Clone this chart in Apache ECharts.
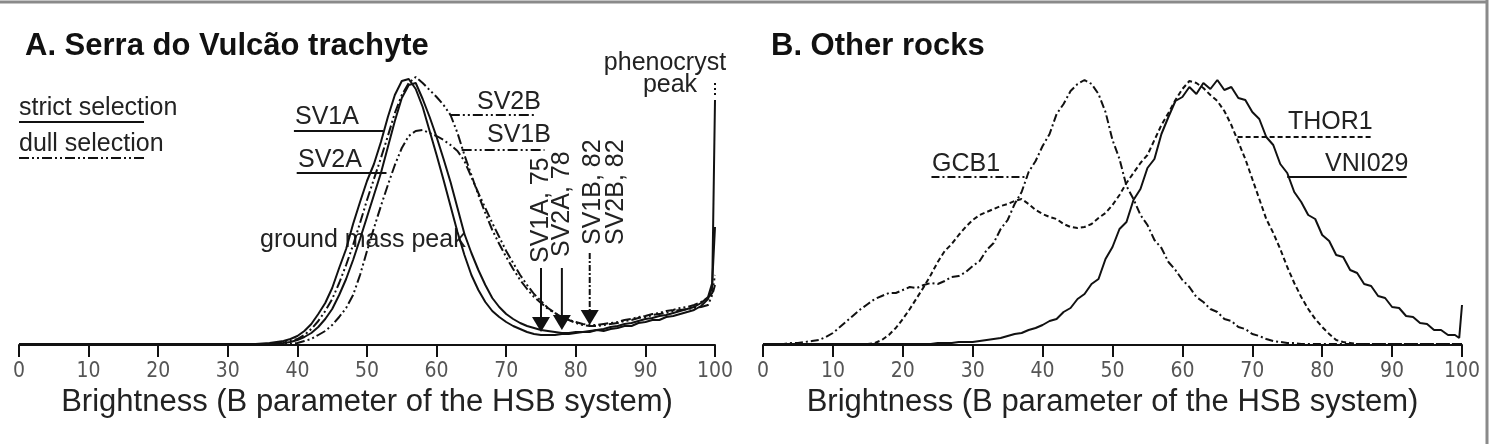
<!DOCTYPE html>
<html>
<head>
<meta charset="utf-8">
<script src="https://cdn.jsdelivr.net/npm/echarts@6/dist/echarts.min.js"></script>
<style>
  html, body { margin: 0; padding: 0; background: #fff; }
  #chart { width: 1491px; height: 444px; }
</style>
</head>
<body>
<div id="chart"></div>
<script>
// brightness histograms, y in arbitrary frequency units
var xsA = [0, 5, 10, 15, 20, 25, 30, 32, 34,
  36, 37, 38, 39, 40, 41, 42, 43, 44, 45, 46, 47, 48, 49, 50, 51, 52, 53, 54, 55,
  56, 57, 58, 59, 60, 61, 62, 63, 64, 65, 66, 67, 68, 69, 70, 71, 72, 73, 74, 75,
  76, 77, 78, 79, 80, 81, 82, 83, 84, 85, 86, 87, 88, 89, 90, 91, 92, 93, 94, 95,
  96, 97, 98, 99, 99.6, 100];

// strict selection (solid)
var sv1a = [1, 1, 1, 1, 1, 1, 1, 1, 1,
  2, 3, 4, 6, 9, 14, 21, 31, 42, 57, 77, 96, 121, 143, 164, 181, 203, 228, 250, 264,
  266, 256, 238, 214, 190, 165, 139, 113, 90, 70, 55, 43, 34, 28, 23, 19, 16, 13, 11, 10,
  10, 10, 11, 11, 12, 13, 13, 15, 14, 16, 17, 19, 19, 22, 23, 25, 25, 28, 29, 31,
  33, 35, 39, 46, 58, 245];
var sv2a = [1, 1, 1, 1, 1, 1, 1, 1, 1,
  1, 1, 2, 3, 5, 8, 12, 18, 26, 36, 50, 66, 85, 106, 128, 150, 172, 198, 224, 247,
  260, 262, 246, 228, 208, 186, 163, 137, 111, 92, 75, 60, 47, 38, 31, 26, 22, 19, 17, 15,
  14, 13, 12, 12, 13, 13, 14, 15, 16, 18, 19, 21, 22, 24, 26, 27, 29, 30, 32, 34,
  36, 38, 42, 48, 62, 118];
// dull selection (dash-dot-dot)
var sv1b = [1, 1, 1, 1, 1, 1, 1, 1, 1,
  1, 1, 1, 1, 2, 4, 6, 10, 14, 20, 28, 37, 50, 70, 94, 117, 139, 160, 180, 197,
  209, 214, 215, 212, 209, 205, 200, 194, 184, 168, 152, 137, 122, 108, 94, 82, 70, 60, 51, 44,
  37, 32, 28, 25, 22, 20, 19, 19, 20, 21, 22, 24, 25, 27, 28, 30, 31, 32, 34, 35,
  36, 37, 38, 40, 50, 60];
var sv2b = [1, 1, 1, 1, 1, 1, 1, 1, 1,
  1, 2, 3, 4, 6, 10, 16, 24, 34, 46, 62, 80, 100, 122, 145, 166, 187, 209, 232, 250,
  262, 268, 262, 255, 248, 240, 230, 212, 190, 170, 150, 132, 115, 101, 88, 76, 65, 56, 48, 42,
  36, 32, 28, 25, 23, 21, 20, 20, 21, 22, 23, 25, 26, 28, 29, 31, 32, 34, 35, 37,
  38, 40, 43, 47, 52, 70];

var xsB = [];
for (var i = 0; i <= 99; i++) xsB.push(i);
xsB.push(99.6, 100);

var gcb1 = [1, 1, 1, 1, 2, 2, 3, 4, 5, 8, 12, 18, 24, 30, 36, 41, 46, 49, 52, 52,
  55, 58, 57, 60, 62, 61, 64, 68, 69, 73, 79, 84, 95, 102, 116, 125, 141, 153, 173, 184,
  199, 211, 231, 241, 254, 261, 265, 261, 251, 233, 205, 186, 159, 146, 130, 120, 105, 97, 83, 75,
  65, 58, 48, 43, 36, 33, 26, 24, 18, 16, 11, 9, 6, 4, 3, 2, 2, 1, 1, 1,
  1, 1, 1, 1, 1, 1, 1, 1, 1, 1, 1, 1, 1, 1, 1, 1, 1, 1, 1, 1, 1, 1];
var thor1 = [1, 1, 1, 1, 1, 1, 1, 1, 1, 1, 1, 1, 1, 1, 1, 1, 2, 5, 10, 17,
  26, 36, 47, 58, 70, 83, 94, 101, 110, 118, 125, 130, 133, 136, 139, 141, 144, 146, 141, 135,
  131, 128, 126, 121, 118, 117, 118, 121, 127, 132, 140, 150, 162, 172, 182, 190, 205, 220, 232, 245,
  256, 264, 262, 257, 250, 244, 234, 220, 203, 186, 166, 146, 126, 112, 96, 78, 62, 48, 36, 26,
  18, 11, 5, 3, 2, 1, 1, 1, 1, 1, 1, 1, 1, 1, 1, 1, 1, 1, 1, 1, 1, 1];
var vni029 = [1, 1, 1, 1, 1, 1, 1, 1, 1, 1, 1, 1, 1, 1, 1, 1, 1, 1, 1, 1,
  1, 1, 1, 1, 1, 2, 2, 2, 3, 3, 3, 4, 5, 6, 7, 9, 11, 12, 15, 17,
  20, 24, 26, 33, 37, 46, 51, 61, 66, 86, 98, 116, 123, 145, 156, 177, 186, 211, 228, 244,
  248, 258, 251, 262, 256, 265, 255, 258, 247, 245, 233, 226, 208, 200, 181, 172, 153, 143, 130, 126,
  110, 104, 90, 88, 75, 72, 61, 59, 49, 47, 38, 37, 29, 28, 22, 21, 15, 15, 10, 10, 7, 40];

var xTicks = [0, 10, 20, 30, 40, 50, 60, 70, 80, 90, 100];
var yMax = 280;

var DASH2DOT = [10, 3, 2, 3, 2, 3];
var DASHDOT = [8, 3, 2, 3];
var DASHED = [5, 3];

function pairs(xs, ys) {
  return xs.map(function (x, k) { return [x, ys[k]]; });
}

function curve(name, xs, ys, idx, dash) {
  return {
    name: name,
    type: 'line',
    xAxisIndex: idx,
    yAxisIndex: idx,
    data: pairs(xs, ys),
    showSymbol: false,
    silent: true,
    lineStyle: { color: '#111', width: 2, type: dash || 'solid' }
  };
}

function xAxisOf(idx) {
  return {
    gridIndex: idx,
    type: 'value',
    min: 0,
    max: 100,
    interval: 10,
    name: 'Brightness (B parameter of the HSB system)',
    nameLocation: 'middle',
    nameGap: 42,
    nameTextStyle: { fontSize: 31, color: '#222', fontFamily: 'Liberation Sans, Arial' },
    axisLine: { lineStyle: { color: '#111', width: 2 } },
    axisTick: { length: 12, lineStyle: { color: '#111', width: 2 } },
    axisLabel: {
      margin: 16, fontSize: 21, color: '#555',
      fontFamily: 'Liberation Sans Narrow, DejaVu Sans Condensed, Liberation Sans',
      formatter: function (v) { return xTicks.indexOf(v) > -1 ? String(v) : ''; }
    },
    splitLine: { show: false }
  };
}

function yAxisOf(idx) {
  return { gridIndex: idx, type: 'value', min: 0, max: yMax, show: false };
}

var chart = echarts.init(document.getElementById('chart'));
var option = {
  animation: false,
  backgroundColor: '#fff',
  title: [
    { text: 'A. Serra do Vulcão trachyte', left: 20, top: 26,
      textStyle: { fontSize: 31, fontWeight: 'bold', color: '#111', fontFamily: 'Liberation Sans, Arial' } },
    { text: 'B. Other rocks', left: 766, top: 26,
      textStyle: { fontSize: 31, fontWeight: 'bold', color: '#111', fontFamily: 'Liberation Sans, Arial' } }
  ],
  grid: [
    { left: 19, width: 696, top: 65, height: 280 },
    { left: 763, width: 699, top: 65, height: 280 }
  ],
  xAxis: [xAxisOf(0), xAxisOf(1)],
  yAxis: [yAxisOf(0), yAxisOf(1)],
  series: [
    curve('SV1A', xsA, sv1a, 0),
    curve('SV2A', xsA, sv2a, 0),
    curve('SV1B', xsA, sv1b, 0, DASH2DOT),
    curve('SV2B', xsA, sv2b, 0, DASH2DOT),
    curve('GCB1', xsB, gcb1, 1, DASHDOT),
    curve('THOR1', xsB, thor1, 1, DASHED),
    curve('VNI029', xsB, vni029, 1)
  ]
};
chart.setOption(option);

// annotations, anchored to data coordinates
var LABEL_FONT = '25px "Liberation Sans", Arial';
function px(g, v, h) { return chart.convertToPixel({ gridIndex: g }, [v, h]); }

function seg(g, v1, h1, v2, h2, dash) {
  var a = px(g, v1, h1), b = px(g, v2, h2);
  return { type: 'line', silent: true,
    shape: { x1: a[0], y1: a[1], x2: b[0], y2: b[1] },
    style: { stroke: '#111', lineWidth: 2, lineDash: dash || null } };
}
function txt(x, y, s, align) {
  return { type: 'text', silent: true, x: x, y: y,
    style: { text: s, font: LABEL_FONT, fill: '#222', align: align || 'left', verticalAlign: 'middle' } };
}
function vtxt(x, y, s) {
  return { type: 'text', silent: true, x: x, y: y, rotation: Math.PI / 2,
    style: { text: s, font: LABEL_FONT, fill: '#222', align: 'left', verticalAlign: 'middle' } };
}
function arrow(g, v, hFrom, hTo, dash) {
  var a = px(g, v, hFrom), b = px(g, v, hTo);
  return [
    { type: 'line', silent: true, shape: { x1: a[0], y1: a[1], x2: b[0], y2: b[1] - 12 },
      style: { stroke: '#111', lineWidth: 2, lineDash: dash || null } },
    { type: 'polygon', silent: true,
      shape: { points: [[b[0] - 9, b[1] - 15], [b[0] + 9, b[1] - 15], [b[0], b[1]]] },
      style: { fill: '#111' } }
  ];
}

var els = [];
// frame
els.push({ type: 'line', silent: true, shape: { x1: 0, y1: 2, x2: 1487, y2: 2 }, style: { stroke: '#8a8a8a', lineWidth: 3 } });
els.push({ type: 'line', silent: true, shape: { x1: 1487, y1: 0, x2: 1487, y2: 444 }, style: { stroke: '#8a8a8a', lineWidth: 3 } });

// legend
els.push(txt(19, 108, 'strict selection'));
els.push({ type: 'line', silent: true, shape: { x1: 19, y1: 122, x2: 144, y2: 122 }, style: { stroke: '#111', lineWidth: 2 } });
els.push(txt(19, 144, 'dull selection'));
els.push({ type: 'line', silent: true, shape: { x1: 19, y1: 158, x2: 145, y2: 158 }, style: { stroke: '#111', lineWidth: 2, lineDash: DASH2DOT } });

// panel A labels
els.push(txt(295, 117, 'SV1A'));
els.push(seg(0, 39.5, 214, 52.3, 214));
els.push(txt(298, 160, 'SV2A'));
els.push(seg(0, 39.9, 172, 52.8, 172));
els.push(txt(477, 102, 'SV2B'));
els.push(seg(0, 61.9, 230, 74.1, 230, DASH2DOT));
els.push(txt(487, 135, 'SV1B'));
els.push(seg(0, 63.6, 195, 75.5, 195, DASH2DOT));
els.push(txt(260, 240, 'ground mass peak'));
els.push(txt(665, 63, 'phenocryst', 'center'));
els.push(txt(670, 85, 'peak', 'center'));
els.push(seg(0, 100, 262, 100, 247, [2, 3]));

els.push(vtxt(px(0, 75, 0)[0], 263, 'SV1A, 75'));
els.push(vtxt(px(0, 78, 0)[0], 257, 'SV2A, 78'));
els.push(vtxt(px(0, 82, 0)[0] + 3, 245, 'SV1B, 82'));
els.push(vtxt(px(0, 82, 0)[0] + 26, 245, 'SV2B, 82'));
els = els.concat(arrow(0, 75, 77, 13));
els = els.concat(arrow(0, 78, 77, 15));
els = els.concat(arrow(0, 82, 92, 20, [6, 2, 2, 2]));

// panel B labels
els.push(txt(932, 164, 'GCB1'));
els.push(seg(1, 24.1, 168, 37.9, 168, DASHDOT));
els.push(txt(1288, 122, 'THOR1'));
els.push(seg(1, 67.9, 208, 87.1, 208, DASHED));
els.push(txt(1325, 164, 'VNI029'));
els.push(seg(1, 75, 168, 92.1, 168));

chart.setOption({ graphic: { elements: els } });
</script>
</body>
</html>
